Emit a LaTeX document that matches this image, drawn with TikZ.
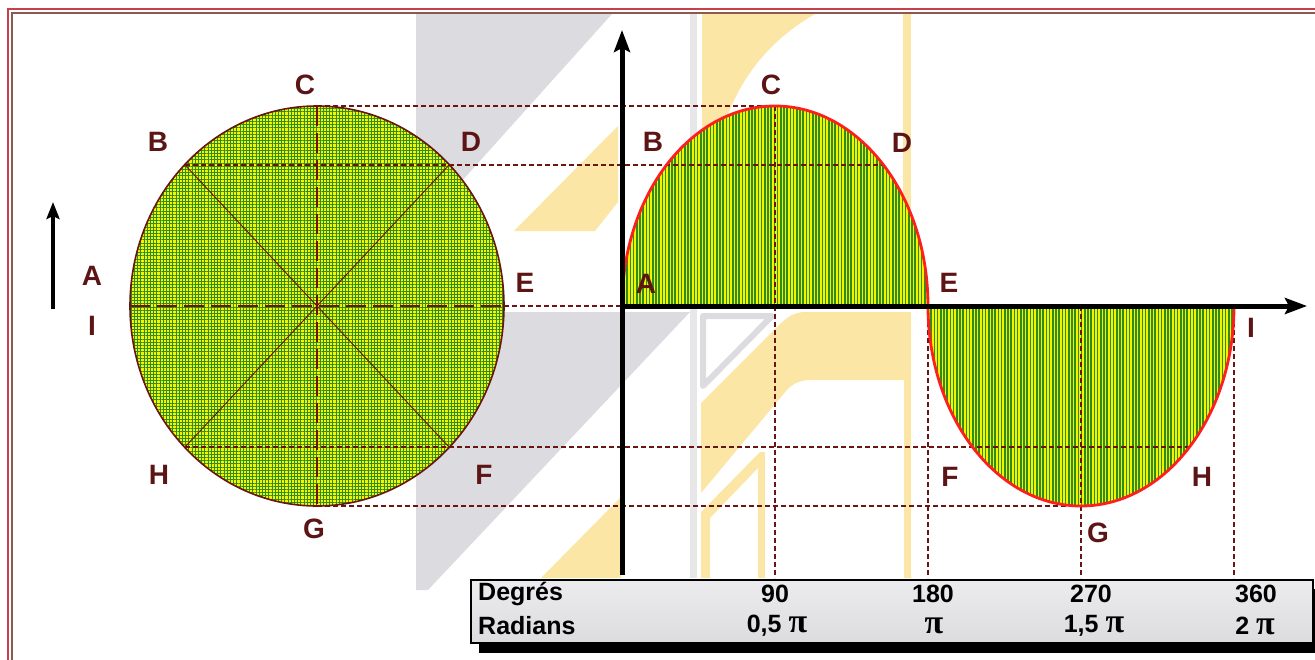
\documentclass[tikz,border=0pt]{standalone}
\usepackage{fontspec}
\setmainfont{Liberation Sans}
\newfontfamily\pifont{Liberation Serif}
\usepackage{tikz}
\usetikzlibrary{positioning,arrows.meta,patterns.meta}

\definecolor{lblred}{HTML}{5C1414}
\definecolor{rimred}{HTML}{6A1414}
\definecolor{curvered}{HTML}{FF1E1E}
\definecolor{fillyel}{HTML}{F4F400}
\definecolor{fillgrn}{HTML}{2E8C1E}
\definecolor{tabgray}{HTML}{DCDCDF}
\definecolor{wmgray}{HTML}{DCDCE0}
\definecolor{wmyel}{HTML}{FBE6A6}
\definecolor{frametop}{HTML}{C8404C}
\definecolor{framelow}{HTML}{8A5A52}

\begin{document}
\begin{tikzpicture}[
  x=1pt,y=-1pt,
  lbl/.style={text=lblred,font=\fontsize{28}{28}\selectfont\bfseries,inner sep=0pt},
  cell/.style={font=\fontsize{25}{25}\selectfont\bfseries,inner sep=0pt},
  proj/.style={rimred,line width=1.4pt,dash pattern=on 5pt off 3pt},
  mid/.style={rimred,line width=1.3pt,dash pattern=on 20pt off 7pt},
  diag/.style={rimred,line width=0.9pt},
  meshfill/.style={preaction={fill=fillyel},
                   pattern={Hatch[angle=0,distance=3.2pt,line width=0.75pt]},pattern color=fillgrn},
  stripefill/.style={preaction={fill=fillyel},
                   pattern={Lines[angle=90,distance=3.2pt,line width=1.5pt]},pattern color=fillgrn},
  ax/.style={line width=5pt,-{Stealth[length=22pt,width=16pt,inset=4pt]}},
  wmline/.style={wmgray,line width=6pt}
]
\useasboundingbox (0,0) rectangle (1315,659);

%% ---- watermark in the background ---------------------------------------
\fill[wmgray] (416,14) -- (612,14) -- (416,232) -- cycle;
\fill[wmgray] (416,312) -- (690,312) -- (428,590) -- (416,590) -- cycle;
\fill[wmgray!70] (690,14) rectangle (697,578);
\draw[wmline,line join=round] (703,316) -- (772,316) -- (703,386) -- cycle;
\fill[wmyel]  (514,231) -- (595,231) -- (618,202) -- (618,126) -- cycle;
\fill[wmyel]  (541,578) -- (621,497) -- (621,578) -- cycle;
\fill[wmyel]  (702,14) -- (815,14) .. controls (770,40) and (735,80) .. (720,140) -- (702,140) -- cycle;
\fill[wmyel]  (903,14) rectangle (911,300);
\fill[wmyel]  (701,493) -- (701,403) -- (778,326) .. controls (788,316) and (795,312) .. (806,312)
              -- (911,312) -- (911,578) -- (904,578) -- (904,380) -- (810,380)
              .. controls (800,380) and (792,384) .. (786,391) -- cycle;
\fill[wmyel]  (701,578) -- (701,512) -- (760,452) -- (765,452) -- (765,578) -- (758,578)
              -- (758,468) -- (710,518) -- (710,578) -- cycle;

%% ---- frame -------------------------------------------------------------
\draw[frametop,line width=2pt]  (8,670)  |- (1330,9);
\draw[framelow,line width=2pt]  (12,670) |- (1330,13);

%% ---- points on the circle and on the curve -----------------------------
\coordinate (O)  at (317,306);
\coordinate (cA) at (130,306);  \coordinate (cE) at (504,306);
\coordinate (cC) at (317,106);  \coordinate (cG) at (317,506);
\coordinate (cB) at (185,165);  \coordinate (cD) at (449,165);
\coordinate (cH) at (185,447);  \coordinate (cF) at (449,447);

\coordinate (sA) at (622,306);  \coordinate (sC) at (775,106);
\coordinate (sE) at (928,306);  \coordinate (sG) at (1081,506);
\coordinate (sI) at (1234,306);
\coordinate (sB) at (667,165);  \coordinate (sD) at (883,165);
\coordinate (sF) at (973,447);  \coordinate (sH) at (1189,447);

\coordinate (t90)  at (775,578);  \coordinate (t180) at (928,578);
\coordinate (t270) at (1081,578); \coordinate (t360) at (1234,578);

%% ---- circle ------------------------------------------------------------
\fill[meshfill] (O) ellipse[x radius=187,y radius=200];
\draw[mid] (cC) -- (cG);
\draw[mid] (cA) -- (cE);
\draw[diag] (cB) -- (cF);
\draw[diag] (cD) -- (cH);
\draw[rimred,line width=1.6pt] (O) ellipse[x radius=187,y radius=200];

%% ---- curve -------------------------------------------------------------
\fill[stripefill] (sA) arc[start angle=180,end angle=360,x radius=153,y radius=200] -- cycle;
\fill[stripefill] (sE) arc[start angle=180,end angle=0,x radius=153,y radius=200] -- cycle;

%% ---- projection lines --------------------------------------------------
\draw[proj] (cC) -- (sC);
\draw[proj] (cB) -- (sD);
\draw[proj] (cE) -- (sA);
\draw[proj] (cH) -- (sH);
\draw[proj] (cG) -- (sG);
\draw[proj] (sC) -- (t90);
\draw[proj] (sE) -- (t180);
\draw[proj] (sG |- sA) -- (t270);
\draw[proj] (sI) -- (t360);

\draw[curvered,line width=2.8pt] (sA) arc[start angle=180,end angle=360,x radius=153,y radius=200]
                                       arc[start angle=180,end angle=0,x radius=153,y radius=200];

%% ---- axes --------------------------------------------------------------
\coordinate (yb) at (622,575);  \coordinate (yt) at (622,30);
\coordinate (xl) at (620,306);  \coordinate (xr) at (1307,306);
\draw[ax] (yb) -- (yt);
\draw[ax] (xl) -- (xr);

\coordinate (ua) at (53,309);   \coordinate (ub) at (53,202);
\draw[line width=4pt,-{Stealth[length=17pt,width=13pt,inset=3pt]}] (ua) -- (ub);

%% ---- labels: circle ----------------------------------------------------
\node[lbl] (lC) at (305,85)  {C};
\node[lbl] (lB) at (158,142) {B};
\node[lbl] (lD) at (471,142) {D};
\node[lbl] (lA) at (92,276)  {A};
\node[lbl] (lE) at (525,283) {E};
\node[lbl] (lI) at (92,326)  {I};
\node[lbl] (lH) at (159,475) {H};
\node[lbl] (lF) at (484,475) {F};
\node[lbl] (lG) at (314,529) {G};

%% ---- labels: curve -----------------------------------------------------
\node[lbl] (mC) at (771,85)   {C};
\node[lbl] (mB) at (653,142)  {B};
\node[lbl] (mD) at (902,143)  {D};
\node[lbl] (mA) at (646,284)  {A};
\node[lbl] (mE) at (949,283)  {E};
\node[lbl] (mI) at (1251,328) {I};
\node[lbl] (mF) at (950,477)  {F};
\node[lbl] (mH) at (1202,477) {H};
\node[lbl] (mG) at (1098,533) {G};

%% ---- table -------------------------------------------------------------
\fill[black] (479,589) rectangle (1322,653);
\draw[black,line width=1.5pt,top color=tabgray!55,bottom color=tabgray] (471,580) rectangle (1313,643);

\node[cell,anchor=west] (deg) at (478,594) {Degrés};
\node[cell,anchor=west] (rad) at (478,626) {Radians};
\node[cell] (d90)  at (775,594)  {90};
\node[cell] (d180) at (933,594)  {180};
\node[cell] (d270) at (1091,594) {270};
\node[cell] (d360) at (1256,594) {360};
\node[cell] (r90)  at (777,626)  {0,5 {\pifont\fontsize{34}{34}\selectfont π}};
\node[cell] (r180) at (934,626)  {{\pifont\fontsize{34}{34}\selectfont π}};
\node[cell] (r270) at (1094,626) {1,5 {\pifont\fontsize{34}{34}\selectfont π}};
\node[cell] (r360) at (1255,626) {2 {\pifont\fontsize{34}{34}\selectfont π}};
\end{tikzpicture}
\end{document}
